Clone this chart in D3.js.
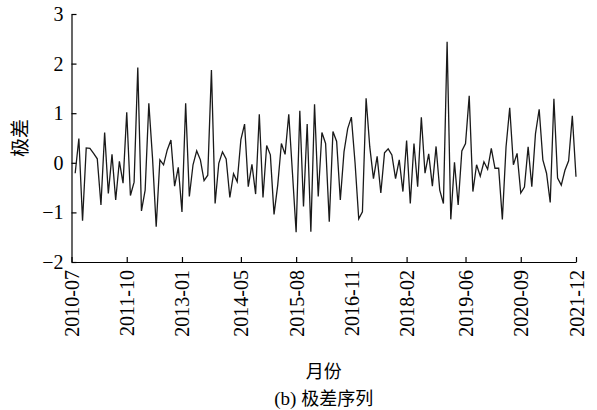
<!DOCTYPE html>
<html>
<head>
<meta charset="utf-8">
<script src="https://cdn.jsdelivr.net/npm/d3@7/dist/d3.min.js"></script>
<style>
html,body{margin:0;padding:0;background:#fff;}
svg{display:block;}
</style>
</head>
<body>
<svg id="chart" width="597" height="410"></svg>
<script>
// ---- data ----
const startMonth = "2010-07";        // first month of the axis (index 0)
const firstDataMonth = "2010-08";    // first month that has a value
const rangeValues = [
 -0.21, 0.49, -1.17, 0.30, 0.29, 0.19, 0.08, -0.85, 0.61, -0.62,
  0.17, -0.75, 0.03, -0.41, 1.02, -0.66, -0.39, 1.92, -0.97, -0.55,
  1.20, 0.10, -1.29, 0.06, -0.04, 0.26, 0.46, -0.47, -0.09, -0.99,
  1.20, -0.68, -0.04, 0.24, 0.06, -0.36, -0.25, 1.87, -0.82, -0.01,
  0.22, 0.08, -0.70, -0.22, -0.38, 0.47, 0.78, -0.48, -0.03, -0.63,
  0.98, -0.70, 0.35, 0.16, -1.04, -0.45, 0.39, 0.17, 0.98, -0.20,
 -1.40, 1.05, -0.88, 0.78, -1.39, 1.18, -0.68, 0.61, 0.39, -1.19,
  0.63, 0.43, -0.75, 0.22, 0.69, 0.92, 0.00, -1.13, -0.99, 1.30,
  0.32, -0.32, 0.13, -0.61, 0.20, 0.28, 0.16, -0.32, 0.06, -0.58,
  0.45, -0.82, 0.39, -0.48, 0.92, -0.21, 0.18, -0.47, 0.33, -0.55,
 -0.82, 2.44, -1.14, 0.01, -0.85, 0.24, 0.39, 1.35, -0.58, -0.04,
 -0.27, 0.02, -0.13, 0.29, -0.11, -0.11, -1.14, 0.32, 1.11, -0.04,
  0.19, -0.61, -0.49, 0.32, -0.48, 0.59, 1.08, 0.06, -0.21, -0.80,
  1.29, -0.31, -0.45, -0.15, 0.04, 0.95, -0.28
];
const xTickLabels = ["2010-07","2011-10","2013-01","2014-05","2015-08","2016-11","2018-02","2019-06","2020-09","2021-12"];
const yTickValues = [-2, -1, 0, 1, 2, 3];
const yLabel = "极差";
const xLabel = "月份";
const captionPrefix = "(b) ";
const captionText = "极差序列";

// ---- helpers ----
function monthIndex(s){
  const [y0,m0] = startMonth.split("-").map(Number);
  const [yy,mm] = s.split("-").map(Number);
  return (yy - y0) * 12 + (mm - m0);
}
const offset = monthIndex(firstDataMonth);
const data = rangeValues.map((v,i)=>({i: i + offset, v}));
const lastIdx = monthIndex(xTickLabels[xTickLabels.length-1]);

// ---- layout ----
const svg = d3.select("#chart");
const mLeft = 71.5, mRight = 576, mTop = 14, mBottom = 262;
const serif = "'Liberation Serif','Times New Roman',serif";
const cjk = "'Noto Sans CJK SC','Liberation Serif',serif";

const x = d3.scaleLinear().domain([0, lastIdx]).range([mLeft, mRight]);
const y = d3.scaleLinear().domain([-2, 3]).range([mBottom, mTop]);

// x axis
const xAxis = d3.axisBottom(x)
  .tickValues(xTickLabels.map(monthIndex))
  .tickFormat((d,i)=>xTickLabels[i])
  .tickSizeInner(-5).tickSizeOuter(0).tickPadding(8);
const gx = svg.append("g").attr("transform",`translate(0,${mBottom})`).call(xAxis);
gx.select(".domain").attr("stroke","#000").attr("stroke-width",1.2);
gx.selectAll(".tick line").attr("stroke","#000").attr("stroke-width",1.2);
gx.selectAll(".tick text")
  .attr("font-family",serif).attr("font-size",20).attr("fill","#000")
  .attr("text-anchor","end")
  .attr("transform","rotate(-90)")
  .attr("x",-8).attr("y",0).attr("dy","0.35em");

// y axis
const yAxis = d3.axisLeft(y).tickValues(yTickValues).tickFormat(d3.format("d"))
  .tickSizeInner(-5).tickSizeOuter(0).tickPadding(8);
const gy = svg.append("g").attr("transform",`translate(${mLeft},0)`).call(yAxis);
gy.select(".domain").attr("stroke","#000").attr("stroke-width",1.2);
gy.selectAll(".tick line").attr("stroke","#000").attr("stroke-width",1.2);
gy.selectAll(".tick text").attr("font-family",serif).attr("font-size",20).attr("fill","#000")
  .text(d=> d < 0 ? "\u2212" + Math.abs(d) : d);

// line
const line = d3.line().x(d=>x(d.i)).y(d=>y(d.v));
svg.append("path").datum(data)
  .attr("d",line).attr("fill","none")
  .attr("stroke","#1a1a1a").attr("stroke-width",1.3).attr("stroke-linejoin","miter");

// labels
svg.append("text").attr("transform",`translate(20,${(mTop+mBottom)/2}) rotate(-90)`)
  .attr("text-anchor","middle").attr("dy","0.35em")
  .attr("font-family",cjk).attr("font-size",19).attr("fill","#000").text(yLabel);
svg.append("text").attr("x",(mLeft+mRight)/2).attr("y",378)
  .attr("text-anchor","middle")
  .attr("font-family",cjk).attr("font-size",18).attr("fill","#000").text(xLabel);
const cap = svg.append("text").attr("x",(mLeft+mRight)/2).attr("y",405)
  .attr("text-anchor","middle")
  .attr("font-family",cjk).attr("font-size",18).attr("fill","#000");
cap.append("tspan").attr("font-family",serif).attr("font-size",19).text(captionPrefix);
cap.append("tspan").text(captionText);
</script>
</body>
</html>
